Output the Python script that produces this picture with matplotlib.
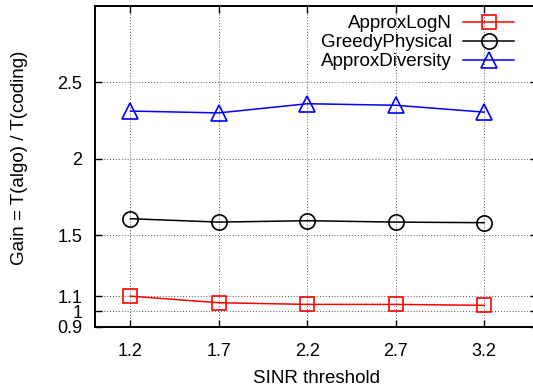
import matplotlib
matplotlib.use("Agg")
import matplotlib.pyplot as plt

plt.rcParams['font.family'] = ['Liberation Sans', 'DejaVu Sans']

# SINR thresholds and gain of each algorithm over coding
sinr = [1.2, 1.7, 2.2, 2.7, 3.2]
approx_logn = [1.10, 1.057, 1.046, 1.046, 1.04]
greedy_physical = [1.607, 1.585, 1.594, 1.585, 1.581]
approx_diversity = [2.312, 2.30, 2.36, 2.35, 2.305]
yticks = [0.9, 1, 1.1, 1.5, 2, 2.5]
ytick_labels = ['0.9', '1', '1.1', '1.5', '2', '2.5']

fig = plt.figure(figsize=(5.33, 3.87), dpi=100)
# right edge of the frame sits just past the figure border
ax = fig.add_axes([95/533, 60.3/387, 442.3/533, 320.7/387])

fs = 13.5
lw = 1.1
ax.plot(sinr, approx_logn, color='#ff0000', lw=lw, marker='s', ms=10.5,
        mfc='none', mec='#ff0000', mew=1.2, label='ApproxLogN')
ax.plot(sinr, greedy_physical, color='black', lw=lw, marker='o', ms=11,
        mfc='none', mec='black', mew=1.2, label='GreedyPhysical')
ax.plot(sinr, approx_diversity, color='#0000ff', lw=lw, marker='^', ms=12,
        mfc='none', mec='#0000ff', mew=1.2, label='ApproxDiversity')

ax.set_xlim(1.0, 3.5)
ax.set_ylim(0.9, 3.0)
ax.set_xticks(sinr)
ax.set_xticklabels([f'{v:.1f}' for v in sinr])
ax.set_yticks(yticks)
ax.set_yticklabels(ytick_labels)
ax.tick_params(direction='in', length=5, width=1, labelsize=13,
               top=True, right=True)
ax.tick_params(axis='x', pad=12)
ax.tick_params(axis='y', pad=9)
ax.grid(True, color='#555555', ls=(0, (1, 2)), lw=0.7)
for s in ax.spines.values():
    s.set_linewidth(1.4)

ax.set_xlabel('SINR threshold', fontsize=fs, labelpad=7)
ax.set_ylabel('Gain = T(algo) / T(coding)', fontsize=fs)
ax.yaxis.set_label_coords(-0.152, 0.526)

leg = ax.legend(loc='upper right', bbox_to_anchor=(0.947, 0.972), frameon=False,
                fontsize=fs, markerfirst=False, handlelength=2.7,
                handletextpad=0.6, labelspacing=0.1, borderpad=0,
                borderaxespad=0)
for t in leg.get_texts():
    t.set_ha('right')
leg._legend_box.align = 'right'
for col in leg._legend_handle_box.get_children():
    col.align = 'right'

fig.savefig('out.png', dpi=100)
